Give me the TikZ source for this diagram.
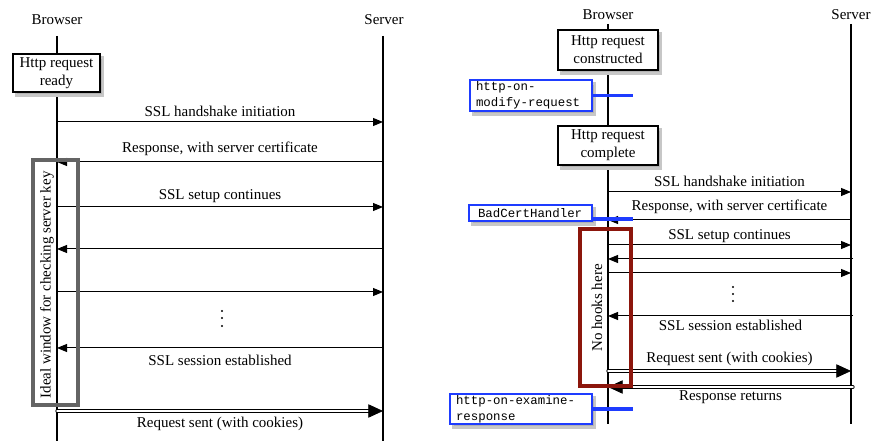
\documentclass[tikz,border=0pt]{standalone}
\usepackage{fontspec}
\setmainfont{Liberation Serif}
\newfontfamily\hookfont{Liberation Mono}
\usetikzlibrary{arrows.meta,shadows}
\definecolor{hookblue}{RGB}{30,60,255}
\definecolor{winred}{RGB}{140,22,12}
\definecolor{wingray}{RGB}{100,100,100}
\begin{document}
\begin{tikzpicture}[x=0.75pt,y=-0.75pt,
  lab/.style={font=\fontsize{11.25}{13.5}\selectfont,inner sep=0pt},
  life/.style={line width=0.9pt},
  msg/.style={line width=0.75pt,-{Triangle[length=7.5pt,width=6pt]}},
  dbl/.style={double,double distance=1.3pt,line width=0.6pt,line cap=round,-{Triangle[length=11pt,width=10pt]}},
  shad/.style={preaction={draw=black!22,line width=2pt,fill=black!30,transform canvas={xshift=2.2pt,yshift=-2.6pt}}},
  evbox/.style={draw,line width=0.9pt,fill=white,align=center,font=\fontsize{11.25}{13.5}\selectfont,inner sep=0pt,shad},
  hookbox/.style={draw=hookblue,line width=1.1pt,fill=white,align=left,font=\hookfont\fontsize{9.3}{12}\selectfont,inner ysep=0pt,shad},
  hookline/.style={draw=hookblue,line width=2.6pt},
  winbox/.style={draw,line width=2.6pt,inner sep=0pt},
  dot/.style={circle,fill,inner sep=0pt,minimum size=1.6pt}
]
\useasboundingbox (0,0) rectangle (872,441);

% ---------------- left diagram ----------------
\node[lab] (lb) at (57,20) {Browser};
\node[lab] (ls) at (384,20) {Server};
\coordinate (lbt) at (57,36);
\coordinate (lbb) at (57,441);
\coordinate (lst) at (383,36);
\coordinate (lsb) at (383,441);
\draw[life] (lbt) -- (lbb);
\draw[life] (lst) -- (lsb);

\node[evbox,minimum width=65.25pt,minimum height=28.5pt] (lready) at (56.5,73) {Http request\\ready};

\foreach \n/\y in {1/122,2/162,3/207,4/249,5/292,6/348,7/411}{
  \coordinate (lb\n) at (57,\y);
  \coordinate (ls\n) at (383,\y);
}
\draw[msg] (lb1) -- (ls1) node[lab,midway,above=4pt] {SSL handshake initiation};
\draw[msg] (ls2) -- (lb2) node[lab,midway,above=4pt] {Response, with server certificate};
\draw[msg] (lb3) -- (ls3) node[lab,midway,above=3pt] {SSL setup continues};
\draw[msg] (ls4) -- (lb4);
\draw[msg] (lb5) -- (ls5);
\node[dot] (ld1) at (222,311) {};
\node[dot] (ld2) at (222,318) {};
\node[dot] (ld3) at (222,326) {};
\draw[msg] (ls6) -- (lb6) node[lab,midway,below=5pt] {SSL session established};
\draw[dbl] (lb7) -- (ls7) node[lab,midway,below=4pt] {Request sent (with cookies)};

\node[winbox,draw=wingray,minimum width=33.75pt,minimum height=183.75pt] (lwin) at (55.5,282.5) {};
\node[lab,rotate=90] (lwintext) at (47,285) {Ideal window for checking server key};

% ---------------- right diagram ----------------
\node[lab] (rb) at (608,15) {Browser};
\node[lab] (rs) at (851,15) {Server};
\coordinate (rbt) at (608,24);
\coordinate (rbb) at (608,424);
\coordinate (rst) at (851,24);
\coordinate (rsb) at (851,424);
\draw[life] (rbt) -- (rbb);
\draw[life] (rst) -- (rsb);

\node[evbox,minimum width=75pt,minimum height=30pt] (rcons) at (608,50) {Http request\\constructed};
\node[evbox,minimum width=75pt,minimum height=29.25pt] (rcomp) at (608,145.5) {Http request\\complete};

\foreach \n/\y in {1/192,2/220,3/245,4/259,5/273,6/316,7/371,8/387}{
  \coordinate (rb\n) at (608,\y);
  \coordinate (rs\n) at (851,\y);
  \coordinate (rx\n) at (853,\y);
}
\draw[msg] (rb1) -- (rs1) node[lab,midway,above=4pt] {SSL handshake initiation};
\draw[msg] (rs2) -- (rb2) node[lab,midway,above=4pt] {Response, with server certificate};
\draw[msg] (rb3) -- (rs3) node[lab,midway,above=1.5pt] {SSL setup continues};
\draw[msg] (rx4) -- (rb4);
\draw[msg] (rb5) -- (rs5);
\node[dot] (rd1) at (733,287) {};
\node[dot] (rd2) at (733,294) {};
\node[dot] (rd3) at (733,301) {};
\draw[msg] (rx6) -- (rb6) node[lab,midway,below=3pt] {SSL session established};
\draw[dbl] (rb7) -- (rs7) node[lab,midway,above=4pt] {Request sent (with cookies)};
\draw[dbl] (rx8) -- (rb8) node[lab,midway,below=2.5pt] {Response returns};

\node[winbox,draw=winred,minimum width=38.25pt,minimum height=117.75pt] (rwin) at (605.5,307.5) {};
\node[lab,rotate=90] (rwintext) at (597,308) {No hooks here};

\node[hookbox,minimum height=23.25pt,inner xsep=4.5pt,text width=82.5pt] (hmod) at (531,95.5) {http-on-\\modify-request};
\node[hookbox,minimum height=12pt,inner xsep=6.75pt,text width=78.75pt] (hbad) at (530.5,213) {BadCertHandler};
\node[hookbox,minimum height=22.5pt,inner xsep=4.5pt,text width=97.5pt] (hexa) at (521,409) {http-on-examine-\\response};

\coordinate (hm) at (633,95.5);
\coordinate (hb) at (633,219);
\coordinate (he) at (633,409);
\draw[hookline] (hmod.east) -- (hm);
\draw[hookline] (hbad.east |- hb) -- (hb);
\draw[hookline] (hexa.east) -- (he);
\end{tikzpicture}
\end{document}
